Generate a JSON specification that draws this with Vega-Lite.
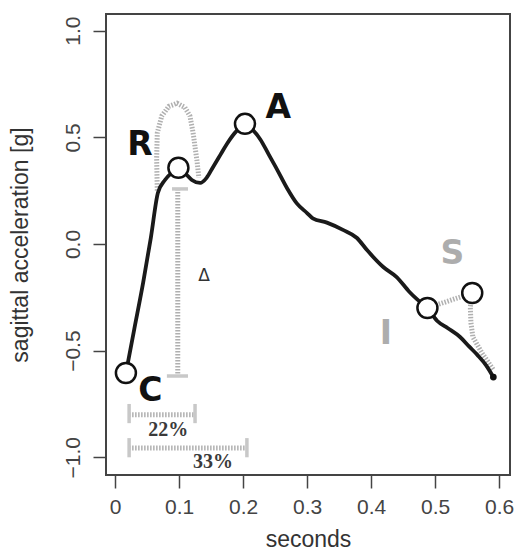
{
  "$schema": "https://vega.github.io/schema/vega-lite/v6.json",
  "width": 404,
  "height": 461,
  "autosize": {"type": "none"},
  "padding": {"left": 106, "top": 14, "right": 7, "bottom": 77},
  "background": "white",
  "config": {
    "font": "Liberation Sans",
    "view": {"stroke": "#444", "strokeWidth": 2},
    "axis": {"grid": false, "domain": false, "tickColor": "#444", "tickWidth": 1.5, "tickSize": 13,
             "labelFontSize": 21, "labelColor": "#444", "titleFontSize": 23, "titleFontWeight": "normal", "titleColor": "#333", "labelFont": "Liberation Sans", "titleFont": "Liberation Sans"}
  },
  "datasets": {
    "curve": [
      {"x": 0.017, "y": -0.605}, {"x": 0.030, "y": -0.40}, {"x": 0.044, "y": -0.18}, {"x": 0.056, "y": 0.03},
      {"x": 0.067, "y": 0.24}, {"x": 0.078, "y": 0.30}, {"x": 0.089, "y": 0.335}, {"x": 0.099, "y": 0.357},
      {"x": 0.110, "y": 0.33}, {"x": 0.120, "y": 0.30}, {"x": 0.133, "y": 0.286}, {"x": 0.143, "y": 0.31},
      {"x": 0.153, "y": 0.36}, {"x": 0.165, "y": 0.42}, {"x": 0.175, "y": 0.47}, {"x": 0.190, "y": 0.53},
      {"x": 0.203, "y": 0.56}, {"x": 0.215, "y": 0.535}, {"x": 0.227, "y": 0.49}, {"x": 0.240, "y": 0.42},
      {"x": 0.253, "y": 0.35}, {"x": 0.269, "y": 0.26}, {"x": 0.284, "y": 0.19}, {"x": 0.300, "y": 0.145},
      {"x": 0.309, "y": 0.12}, {"x": 0.331, "y": 0.10}, {"x": 0.356, "y": 0.066}, {"x": 0.378, "y": 0.028},
      {"x": 0.394, "y": -0.03}, {"x": 0.419, "y": -0.108}, {"x": 0.440, "y": -0.155}, {"x": 0.460, "y": -0.225},
      {"x": 0.472, "y": -0.26}, {"x": 0.488, "y": -0.30}, {"x": 0.503, "y": -0.36}, {"x": 0.520, "y": -0.395},
      {"x": 0.539, "y": -0.436}, {"x": 0.553, "y": -0.48}, {"x": 0.566, "y": -0.52}, {"x": 0.580, "y": -0.57},
      {"x": 0.591, "y": -0.624}
    ],
    "dotted": [
      {"g": "bell", "i": 1, "x": 0.066, "y": 0.25}, {"g": "bell", "i": 2, "x": 0.065, "y": 0.40},
      {"g": "bell", "i": 3, "x": 0.066, "y": 0.52}, {"g": "bell", "i": 4, "x": 0.073, "y": 0.60},
      {"g": "bell", "i": 5, "x": 0.084, "y": 0.645}, {"g": "bell", "i": 6, "x": 0.097, "y": 0.66},
      {"g": "bell", "i": 7, "x": 0.109, "y": 0.64}, {"g": "bell", "i": 8, "x": 0.117, "y": 0.60},
      {"g": "bell", "i": 9, "x": 0.122, "y": 0.52}, {"g": "bell", "i": 10, "x": 0.128, "y": 0.39},
      {"g": "bell", "i": 11, "x": 0.131, "y": 0.31},
      {"g": "delta", "i": 1, "x": 0.098, "y": 0.258}, {"g": "delta", "i": 2, "x": 0.098, "y": -0.619},
      {"g": "IS", "i": 1, "x": 0.488, "y": -0.30}, {"g": "IS", "i": 2, "x": 0.558, "y": -0.23},
      {"g": "Send", "i": 1, "x": 0.558, "y": -0.23}, {"g": "Send", "i": 2, "x": 0.555, "y": -0.295},
      {"g": "Send", "i": 3, "x": 0.556, "y": -0.37}, {"g": "Send", "i": 4, "x": 0.559, "y": -0.436},
      {"g": "Send", "i": 5, "x": 0.573, "y": -0.51}, {"g": "Send", "i": 6, "x": 0.591, "y": -0.59},
      {"g": "b22", "i": 1, "x": 0.022, "y": -0.80}, {"g": "b22", "i": 2, "x": 0.125, "y": -0.80},
      {"g": "b33", "i": 1, "x": 0.022, "y": -0.956}, {"g": "b33", "i": 2, "x": 0.206, "y": -0.956}
    ],
    "caps": [
      {"x": 0.089, "x2": 0.114, "y": 0.258, "y2": 0.258},
      {"x": 0.081, "x2": 0.114, "y": -0.619, "y2": -0.619},
      {"x": 0.022, "x2": 0.022, "y": -0.75, "y2": -0.84},
      {"x": 0.125, "x2": 0.125, "y": -0.75, "y2": -0.84},
      {"x": 0.022, "x2": 0.022, "y": -0.91, "y2": -1.0},
      {"x": 0.206, "x2": 0.206, "y": -0.91, "y2": -1.0}
    ],
    "events": [
      {"name": "C", "x": 0.017, "y": -0.605}, {"name": "R", "x": 0.099, "y": 0.357},
      {"name": "A", "x": 0.203, "y": 0.563}, {"name": "I", "x": 0.488, "y": -0.30},
      {"name": "S", "x": 0.558, "y": -0.23}
    ],
    "letters": [
      {"t": "R", "kind": "main", "x": 0.039, "y": 0.464}, {"t": "A", "kind": "main", "x": 0.255, "y": 0.637},
      {"t": "C", "kind": "main", "x": 0.055, "y": -0.69}, {"t": "S", "kind": "side", "x": 0.527, "y": -0.047},
      {"t": "I", "kind": "side", "x": 0.423, "y": -0.422}
    ],
    "pct": [
      {"t": "22%", "x": 0.083, "y": -0.872}, {"t": "33%", "x": 0.153, "y": -1.02}
    ]
  },
  "layer": [
    {
      "data": {"name": "dotted"},
      "mark": {"type": "line", "color": "#b0b0b0", "strokeWidth": 5, "strokeDash": [1.5, 1.5]},
      "encoding": {
        "x": {"field": "x", "type": "quantitative", "scale": {"domain": [-0.0141, 0.617], "nice": false, "zero": false},
              "axis": {"values": [0, 0.1, 0.2, 0.3, 0.4, 0.5, 0.6], "labelExpr": "datum.value == 0 ? '0' : format(datum.value, '.1f')", "title": "seconds", "labelPadding": 8, "titlePadding": 11}},
        "y": {"field": "y", "type": "quantitative", "scale": {"domain": [-1.083, 1.078], "nice": false, "zero": false},
              "axis": {"values": [-1, -0.5, 0, 0.5, 1], "labelExpr": "format(datum.value, '.1f')", "labelAngle": -90, "labelAlign": "center", "labelBaseline": "bottom", "labelPadding": 10, "title": "sagittal acceleration [g]", "titlePadding": 30}},
        "detail": {"field": "g"},
        "order": {"field": "i", "type": "quantitative"}
      }
    },
    {
      "data": {"name": "caps"},
      "mark": {"type": "rule", "color": "#c8c8c8", "strokeWidth": 3.5},
      "encoding": {
        "x": {"field": "x", "type": "quantitative"}, "x2": {"field": "x2"},
        "y": {"field": "y", "type": "quantitative"}, "y2": {"field": "y2"}
      }
    },
    {
      "data": {"name": "curve"},
      "mark": {"type": "line", "color": "#1a1a1a", "strokeWidth": 3.8, "interpolate": "monotone"},
      "encoding": {
        "x": {"field": "x", "type": "quantitative"},
        "y": {"field": "y", "type": "quantitative"}
      }
    },
    {
      "data": {"values": [{"x": 0.591, "y": -0.624}]},
      "mark": {"type": "point", "filled": true, "color": "#111", "size": 45, "opacity": 1},
      "encoding": {
        "x": {"field": "x", "type": "quantitative"},
        "y": {"field": "y", "type": "quantitative"}
      }
    },
    {
      "data": {"name": "events"},
      "mark": {"type": "point", "shape": "circle", "filled": false, "fill": "white", "fillOpacity": 1, "stroke": "#111", "strokeWidth": 2.5, "size": 400, "opacity": 1},
      "encoding": {
        "x": {"field": "x", "type": "quantitative"},
        "y": {"field": "y", "type": "quantitative"}
      }
    },
    {
      "data": {"name": "letters"},
      "mark": {"type": "text", "font": "DejaVu Sans", "fontWeight": "bold", "fontSize": 33, "baseline": "middle", "align": "center"},
      "encoding": {
        "x": {"field": "x", "type": "quantitative"},
        "y": {"field": "y", "type": "quantitative"},
        "text": {"field": "t"},
        "color": {"field": "kind", "type": "nominal", "scale": {"domain": ["main", "side"], "range": ["#111", "#adadad"]}, "legend": null}
      }
    },
    {
      "data": {"name": "pct"},
      "mark": {"type": "text", "font": "Liberation Serif", "fontWeight": "bold", "fontSize": 20, "color": "#3a3a3a", "baseline": "middle", "align": "center"},
      "encoding": {
        "x": {"field": "x", "type": "quantitative"},
        "y": {"field": "y", "type": "quantitative"},
        "text": {"field": "t"}
      }
    },
    {
      "data": {"values": [{"t": "Δ", "x": 0.139, "y": -0.15}]},
      "mark": {"type": "text", "font": "DejaVu Sans", "fontSize": 17, "color": "#333", "baseline": "middle", "align": "center"},
      "encoding": {
        "x": {"field": "x", "type": "quantitative"},
        "y": {"field": "y", "type": "quantitative"},
        "text": {"field": "t"}
      }
    }
  ]
}
